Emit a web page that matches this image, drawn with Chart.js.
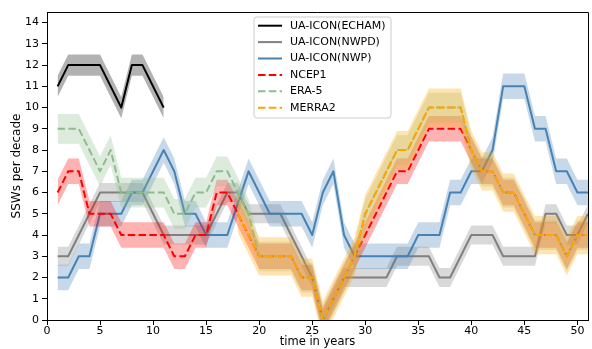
<!DOCTYPE html>
<html><head><meta charset="utf-8">
<script src="https://cdn.jsdelivr.net/npm/chart.js@4.4.1/dist/chart.umd.min.js"></script>
<style>html,body{margin:0;padding:0;background:#fff;} #wrap{width:592px;height:349px;}</style>
</head><body>
<div id="wrap"><canvas id="c" width="592" height="349"></canvas></div>
<script>
// ---- data ----
const years = [1,2,3,4,5,6,7,8,9,10,11,12,13,14,15,16,17,18,19,20,21,22,23,24,25,26,27,28,29,30,31,32,33,34,35,36,37,38,39,40,41,42,43,44,45,46,47,48,49,50,51];
const xTickValues = [0,5,10,15,20,25,30,35,40,45,50];
const yTickValues = [0,1,2,3,4,5,6,7,8,9,10,11,12,13,14];

const echam  = [11,12,12,12,12,11,10,12,12,11,10, null,null,null,null,null,null,null,null,null,null,null,null,null,null,null,null,null,null,null,null,null,null,null,null,null,null,null,null,null,null,null,null,null,null,null,null,null,null,null,null];
const nwpd   = [3,3,4,5,6,6,6,6,6,5, 4,4,4,4,4,5,6,6,5,5, 5,5,4,3,2,0,1,2,2,2, 2,2,3,3,3,3,2,2,3,4, 4,4,3,3,3,3,5,5,4,4,5];
const nwp    = [2,2,3,3,5,5,5,6,6,7, 8,7,5,5,4,4,4,5.5,7,6, 5,5,5,5,4,6,7,4,3,3, 3,3,3,3,4,4,4,6,6,7, 7,8,11,11,11,9,9,7,7,6,6];
const ncep1  = [6,7,7,5,5,5,4,4,4,4, 4,3,3,4,4,6,6,5,4,3, 3,3,3,2,2,0,1,2,3,4, 5,6,7,7,8,9,9,9,9,8, 7,7,6,6,5,4,4,4,3,4,4];
const era5   = [9,9,9,8,7,8,6,6,6,6, 6,5,5,6,6,7,7,6,5,3, 3,3,3,2,2,0,1,2,3,5, 6,7,8,8,9,10,10,10,10,8, 7,7,6,6,5,4,4,4,3,4,4];
const merra2 = [null,null,null,null,null,null,null,null,null,null, null,null,null,null,null,null,null,5,4,3, 3,3,3,2,2,0,1,2,3,5, 6,7,8,8,9,10,10,10,10,8, 7,7,6,6,5,4,4,4,3,4,4];

// half-width of the shaded uncertainty band of each series
const echamSpread = 0.5, nwpdSpread = 0.45, nwpSpread = 0.6, ncep1Spread = 0.6, era5Spread = 0.7, merra2Spread = 0.9;

const labels = ['UA-ICON(ECHAM)','UA-ICON(NWPD)','UA-ICON(NWP)','NCEP1','ERA-5','MERRA2'];

// ---- styles ----
const DASH = [7.5, 3.3];
const series = [
  {label: labels[0], values: echam,  spread: echamSpread,  color: '#000000', band: 'rgba(0,0,0,0.3)',       dash: []},
  {label: labels[1], values: nwpd,   spread: nwpdSpread,   color: '#808080', band: 'rgba(128,128,128,0.3)', dash: []},
  {label: labels[2], values: nwp,    spread: nwpSpread,    color: '#4682b4', band: 'rgba(70,130,180,0.3)',  dash: []},
  {label: labels[3], values: ncep1,  spread: ncep1Spread,  color: '#ff0000', band: 'rgba(255,0,0,0.3)',     dash: DASH},
  {label: labels[4], values: era5,   spread: era5Spread,   color: '#8fbc8f', band: 'rgba(143,188,143,0.3)', dash: DASH},
  {label: labels[5], values: merra2, spread: merra2Spread, color: '#ffa500', band: 'rgba(255,165,0,0.3)',   dash: DASH},
];

const datasets = [];
series.forEach((s, i) => {
  const base = 100 - 10 * i;
  const pts = (off) => years.map((x, j) => ({x: x, y: s.values[j] == null ? null : s.values[j] + off}));
  datasets.push({label: s.label + ' lo', data: pts(-s.spread), borderWidth: 0, pointRadius: 0, fill: false, order: base + 5});
  datasets.push({label: s.label + ' hi', data: pts(s.spread), borderWidth: 0, pointRadius: 0, fill: '-1', backgroundColor: s.band, order: base + 5});
  datasets.push({label: s.label, data: pts(0), borderColor: s.color, borderWidth: 2, borderDash: s.dash,
    borderCapStyle: 'butt', borderJoinStyle: 'round', pointRadius: 0, fill: false, order: base, tension: 0});
});

const frame = {
  id: 'frame',
  afterDatasetsDraw(chart) {
    const a = chart.chartArea, ctx = chart.ctx;
    ctx.save();
    ctx.strokeStyle = '#000'; ctx.lineWidth = 1;
    ctx.beginPath();
    ctx.moveTo(a.left, a.top + 0.5); ctx.lineTo(a.right + 0.5, a.top + 0.5); ctx.lineTo(a.right + 0.5, a.bottom);
    ctx.stroke();
    ctx.restore();
  }
};

const legendBox = {
  id: 'legendBox',
  afterDraw(chart) {
    const ctx = chart.ctx;
    const x0 = 254, y0 = 17, w = 137, h = 101, r = 3;
    ctx.save();
    ctx.beginPath();
    ctx.moveTo(x0 + r, y0); ctx.lineTo(x0 + w - r, y0); ctx.arcTo(x0 + w, y0, x0 + w, y0 + r, r);
    ctx.lineTo(x0 + w, y0 + h - r); ctx.arcTo(x0 + w, y0 + h, x0 + w - r, y0 + h, r);
    ctx.lineTo(x0 + r, y0 + h); ctx.arcTo(x0, y0 + h, x0, y0 + h - r, r);
    ctx.lineTo(x0, y0 + r); ctx.arcTo(x0, y0, x0 + r, y0, r);
    ctx.closePath();
    ctx.fillStyle = 'rgba(255,255,255,0.8)'; ctx.fill();
    ctx.strokeStyle = '#cccccc'; ctx.lineWidth = 1; ctx.stroke();
    ctx.font = '11px "DejaVu Sans"';
    ctx.textBaseline = 'middle'; ctx.fillStyle = '#000';
    series.forEach((s, i) => {
      const yy = 25.7 + i * 16.4;
      ctx.beginPath();
      ctx.setLineDash(s.dash); ctx.lineCap = 'butt';
      ctx.strokeStyle = s.color; ctx.lineWidth = 2;
      ctx.moveTo(258, yy); ctx.lineTo(282, yy); ctx.stroke();
      ctx.setLineDash([]);
      ctx.fillText(s.label, 290, yy);
    });
    ctx.restore();
  }
};

Chart.defaults.font.family = '"DejaVu Sans", sans-serif';
Chart.defaults.font.size = 11;
Chart.defaults.color = '#000';

new Chart(document.getElementById('c'), {
  type: 'line',
  data: {datasets},
  options: {
    responsive: false, animation: false, devicePixelRatio: 1,
    layout: {padding: {top: 12, right: 4, left: 0, bottom: 0}},
    plugins: {legend: {display: false}, tooltip: {enabled: false}, filler: {propagate: false}},
    elements: {line: {tension: 0}},
    scales: {
      x: {
        type: 'linear', min: 0, max: 51,
        afterBuildTicks: (ax) => { ax.ticks = xTickValues.map(v => ({value: v})); },
        afterFit: (ax) => { ax.height = 29; },
        grid: {drawOnChartArea: false, drawTicks: true, tickLength: 5, color: '#000'},
        border: {display: true, color: '#000', width: 1},
        ticks: {padding: 0, maxRotation: 0, autoSkip: false, color: '#000'},
        title: {display: true, text: 'time in years', padding: {top: 0, bottom: 0}, color: '#000', font: {size: 11.5}}
      },
      y: {
        type: 'linear', min: 0, max: 14.5,
        afterBuildTicks: (ax) => { ax.ticks = yTickValues.map(v => ({value: v})); },
        afterFit: (ax) => { ax.width = 47; },
        grid: {drawOnChartArea: false, drawTicks: true, tickLength: 5, color: '#000'},
        border: {display: true, color: '#000', width: 1},
        ticks: {padding: 3, autoSkip: false, color: '#000'},
        title: {display: true, text: 'SSWs per decade', padding: {top: 10, bottom: 0}, color: '#000', font: {size: 12}}
      }
    }
  },
  plugins: [frame, legendBox]
});
</script>
</body></html>
